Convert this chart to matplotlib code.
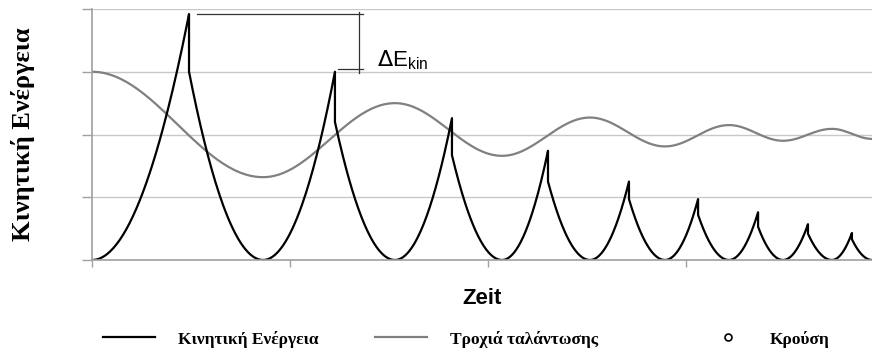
import numpy as np
import matplotlib
matplotlib.use("Agg")
import matplotlib.pyplot as plt

# times where the kinetic energy is zero (turning points of the pendulum)
zero_t = [0.0, 0.864, 1.530, 2.071, 2.515, 2.894, 3.217, 3.490, 3.737, 3.94]
# collision times, energy just before and just after each collision
hit_t = [0.490, 1.227, 1.818, 2.303, 2.712, 3.061, 3.364, 3.616, 3.838]
hit_before = [3.92, 3.00, 2.26, 1.74, 1.25, 0.97, 0.76, 0.57, 0.43]
hit_after = [3.00, 2.20, 1.67, 1.25, 0.97, 0.72, 0.53, 0.42, 0.33]
# oscillation path: value at each turning point
path_v = [3.00, 1.32, 2.50, 1.66, 2.27, 1.81, 2.15, 1.90, 2.09, 1.93]

labels = ["Κινητική Ενέργεια", "Τροχιά ταλάντωσης", "Κρούση"]

# kinetic energy: parabola up to the hit, jump down, parabola back to zero
ke_t, ke_v = [], []
for i in range(len(hit_t)):
    z0, p, z1 = zero_t[i], hit_t[i], zero_t[i + 1]
    t = np.linspace(z0, p, 60)
    ke_t += list(t)
    ke_v += list(hit_before[i] * ((t - z0) / (p - z0)) ** 2)
    t = np.linspace(p, z1, 60)
    ke_t += list(t)
    ke_v += list(hit_after[i] * ((z1 - t) / (z1 - p)) ** 2)

# oscillation path: half cosine between turning points
pt_t, pt_v = [], []
for i in range(len(zero_t) - 1):
    t = np.linspace(zero_t[i], zero_t[i + 1], 60)
    s = (t - zero_t[i]) / (zero_t[i + 1] - zero_t[i])
    pt_t += list(t)
    pt_v += list(path_v[i] + (path_v[i + 1] - path_v[i]) * (1 - np.cos(np.pi * s)) / 2)

fig = plt.figure(figsize=(8.72, 3.49), dpi=100)
ax = fig.add_axes([92 / 872, 1 - 260 / 349, 1 - 92 / 872, 251 / 349])

ax.plot(pt_t, pt_v, color="#808080", lw=1.6, label=labels[1])
ax.plot(ke_t, ke_v, color="black", lw=1.6, label=labels[0])
ax.plot([], [], "o", ms=5, mfc="white", mec="black", mew=1.2, label=labels[2])

ax.set_xlim(0, 780 / 198)
ax.set_ylim(0, 4)
ax.set_xticks([0, 1, 2, 3])
ax.set_yticks([0, 1, 2, 3, 4])
ax.set_xticklabels([])
ax.set_yticklabels([])
ax.tick_params(axis="x", direction="out", length=5, width=1, color="#a0a0a0")
ax.tick_params(axis="y", direction="out", length=7, width=1, color="#a0a0a0")
ax.grid(axis="y", color="#c8c8c8", lw=1)
ax.set_axisbelow(True)
for s in ["top", "right"]:
    ax.spines[s].set_visible(False)
for s in ["left", "bottom"]:
    ax.spines[s].set_color("#a0a0a0")
    ax.spines[s].set_linewidth(1.2)

# Delta E_kin bracket between first two collision peaks
y1, y2 = hit_before[0], hit_before[1]
xb = 1.348
ax.plot([0.53, xb + 0.02], [y1, y1], color="#303030", lw=0.9)
ax.plot([xb, xb], [y1 + 0.03, y2 - 0.02], color="#303030", lw=0.9)
ax.plot([1.242, xb + 0.02], [y2 + 0.05, y2 + 0.05], color="#303030", lw=0.9)
ax.text(1.44, 3.08, r"$\Delta$E$_{\mathregular{kin}}$", fontsize=16,
        family="Liberation Sans", ha="left", va="baseline")

ax.set_ylabel("Κινητική Ενέργεια", family="Liberation Serif", fontweight="bold",
              fontsize=19)
ax.yaxis.set_label_coords(-57 / 780, 0.5)
ax.set_xlabel("Zeit", family="Liberation Sans", fontweight="bold", fontsize=16)
ax.xaxis.set_label_coords(0.5, -(298 - 260) / 251)
ax.xaxis.label.set_va("center")

handles, _ = ax.get_legend_handles_labels()
h = {lab: hd for hd, lab in zip(handles, [labels[1], labels[0], labels[2]])}
lfont = {"family": "Liberation Serif", "weight": "bold", "size": 12.5}
fs_px = 12.5 * 100 / 72
for lab, x0, pad in [(labels[0], 103, 23), (labels[1], 375, 23), (labels[2], 702, 16)]:
    fig.legend([h[lab]], [lab], loc="center left", bbox_to_anchor=(x0 / 872, 1 - 339 / 349),
               frameon=False, prop=lfont, borderpad=0, borderaxespad=0,
               handlelength=52 / fs_px, handletextpad=pad / fs_px)

fig.savefig("out.png", dpi=100)
